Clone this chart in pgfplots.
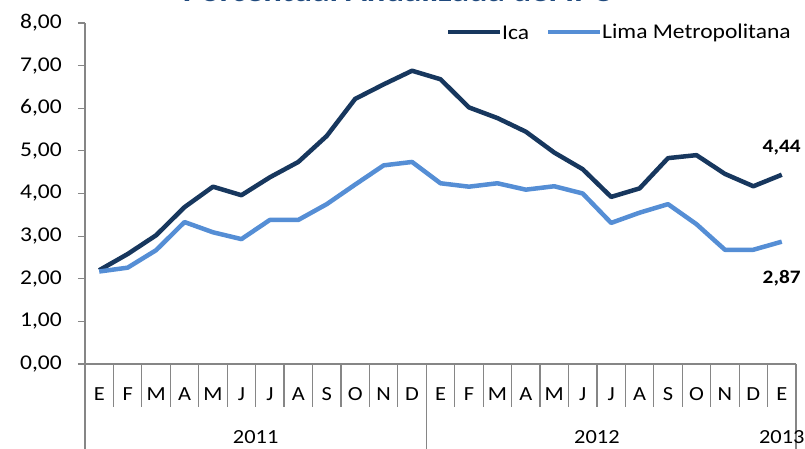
\documentclass[border=0pt]{standalone}
\usepackage{pgfplots}
\pgfplotsset{compat=1.18}
\usepackage{fontspec}
\setmainfont{Carlito}[FakeStretch=1.12]
\definecolor{icac}{HTML}{17375E}
\definecolor{limac}{HTML}{558ED5}
\definecolor{axc}{HTML}{868686}
\definecolor{titc}{HTML}{1F497D}
\begin{document}
\begin{tikzpicture}
\begin{axis}[
  at={(85pt,85pt)}, anchor=south west,
  scale only axis, width=711pt, height=341pt,
  xmin=-0.5, xmax=24.5, ymin=0, ymax=8,
  clip=false,
  axis lines*=left,
  axis line style={axc, line width=1.2pt},
  every tick/.style={axc, line width=1.2pt},
  tick align=outside,
  xtick={0,...,24},
  xticklabels={E,F,M,A,M,J,J,A,S,O,N,D,E,F,M,A,M,J,J,A,S,O,N,D,E},
  xticklabel style={anchor=base, inner sep=0pt, yshift=-30pt, font=\fontsize{20}{22}\selectfont},
  major x tick style={draw=none},
  major tick length=7pt,
  ytick={0,1,...,8},
  yticklabel style={anchor=east, inner sep=0pt, xshift=-16pt, font=\fontsize{21}{23}\selectfont},
  /pgf/number format/.cd, fixed, fixed zerofill, precision=2, use comma, assume math mode=true,
]
\addplot[icac, line width=4.5pt, line join=round] coordinates {
(0,2.20) (1,2.58) (2,3.02) (3,3.68) (4,4.16) (5,3.96) (6,4.38) (7,4.74) (8,5.35) (9,6.22) (10,6.56) (11,6.88)
(12,6.68) (13,6.02) (14,5.77) (15,5.45) (16,4.96) (17,4.57) (18,3.92) (19,4.12) (20,4.83) (21,4.90) (22,4.46) (23,4.17) (24,4.44)};
\addplot[limac, line width=4.5pt, line join=round] coordinates {
(0,2.17) (1,2.26) (2,2.67) (3,3.33) (4,3.09) (5,2.93) (6,3.38) (7,3.38) (8,3.75) (9,4.21) (10,4.66) (11,4.74)
(12,4.24) (13,4.16) (14,4.24) (15,4.09) (16,4.17) (17,4.00) (18,3.31) (19,3.55) (20,3.75) (21,3.28) (22,2.68) (23,2.68) (24,2.87)};
\node[font=\fontsize{19}{21}\selectfont\bfseries, anchor=base east, inner sep=0pt] at (axis cs:24,4.44) [xshift=19pt, yshift=22pt] {4,44};
\node[font=\fontsize{19}{21}\selectfont\bfseries, anchor=base east, inner sep=0pt] at (axis cs:24,2.87) [xshift=19pt, yshift=-42pt] {2,87};
\pgfplotsinvokeforeach{-0.5,0.5,...,24.5}{
  \draw[axc, line width=1.2pt] (axis cs:#1,0) -- ++(0pt,-43pt);
}
\draw[axc, line width=1.2pt] (axis cs:-0.5,0) -- ++(0pt,-86pt);
\draw[axc, line width=1.2pt] (axis cs:11.5,0) -- ++(0pt,-86pt);
\draw[axc, line width=1.2pt] (axis cs:24.5,0) -- ++(0pt,-86pt);
\node[font=\fontsize{20}{22}\selectfont, anchor=base, inner sep=0pt] at (axis cs:5.5,0) [yshift=-80pt] {2011};
\node[font=\fontsize{20}{22}\selectfont, anchor=base, inner sep=0pt] at (axis cs:17.5,0) [yshift=-80pt] {2012};
\node[font=\fontsize{20}{22}\selectfont, anchor=base, inner sep=0pt] at (axis cs:24,0) [yshift=-80pt] {2013};
\end{axis}
% legend
\draw[icac, line width=4.5pt] (448pt,417pt) -- (500pt,417pt);
\node[anchor=west, inner sep=0pt, font=\fontsize{21}{23}\selectfont] at (502pt,416pt) {Ica};
\draw[limac, line width=4.5pt] (548pt,417pt) -- (600pt,417pt);
\node[anchor=west, inner sep=0pt, font=\fontsize{21}{23}\selectfont] at (602pt,416pt) {Lima Metropolitana};
% title (cut off at top as in reference)
\node[anchor=base, inner sep=0pt, text=titc, font=\fontsize{31}{34}\selectfont\bfseries] at (397pt,447pt) {Porcentual Anualizada del IPC};
\pgfresetboundingbox
\path[use as bounding box] (0pt,0pt) rectangle (805pt,449pt);
\end{tikzpicture}
\end{document}
